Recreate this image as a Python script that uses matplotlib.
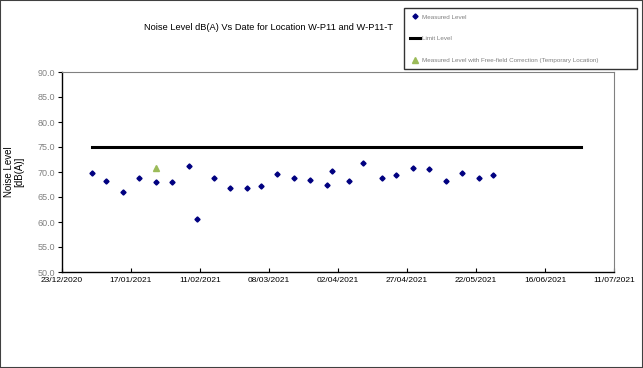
import matplotlib
matplotlib.use("Agg")
import matplotlib.pyplot as plt
import matplotlib.dates as mdates
from matplotlib.patches import Rectangle
import pandas as pd

plt.rcParams['font.family'] = ['Liberation Sans', 'DejaVu Sans']

# measured levels
meas_dates = ["2021-01-03", "2021-01-08", "2021-01-14", "2021-01-20", "2021-01-26",
              "2021-02-01", "2021-02-07", "2021-02-10", "2021-02-16", "2021-02-22",
              "2021-02-28", "2021-03-05", "2021-03-11", "2021-03-17", "2021-03-23",
              "2021-03-29", "2021-03-31", "2021-04-06", "2021-04-11", "2021-04-18",
              "2021-04-23", "2021-04-29", "2021-05-05", "2021-05-11", "2021-05-17",
              "2021-05-23", "2021-05-28"]
meas_levels = [69.9, 68.3, 66.1, 68.8, 68.0,
               68.0, 71.2, 60.6, 68.8, 66.8,
               66.8, 67.3, 69.6, 68.8, 68.5,
               67.5, 70.3, 68.2, 71.8, 68.8,
               69.4, 70.9, 70.6, 68.2, 69.9,
               68.8, 69.4]

# free-field corrected (temporary location)
ff_dates = ["2021-01-26"]
ff_levels = [70.9]

# limit level
limit_dates = ["2021-01-03", "2021-06-29"]
limit_levels = [75, 75]

tick_dates = ["2020-12-23", "2021-01-17", "2021-02-11", "2021-03-08", "2021-04-02",
              "2021-04-27", "2021-05-22", "2021-06-16", "2021-07-11"]
y_ticks = [50, 55, 60, 65, 70, 75, 80, 85, 90]

fig = plt.figure(figsize=(6.43, 3.68), dpi=100)
ax = fig.add_axes([62 / 643, 1 - 272 / 368, 552 / 643, 200 / 368])

ax.plot(pd.to_datetime(meas_dates), meas_levels, linestyle='none', marker='D',
        markersize=2.6, color='#000080', label='Measured Level')
ax.plot(pd.to_datetime(limit_dates), limit_levels, color='black', linewidth=2.2,
        label='Limit Level')
ax.plot(pd.to_datetime(ff_dates), ff_levels, linestyle='none', marker='^',
        markersize=4.5, color='#9BBB59',
        label='Measured Level with Free-field Correction (Temporary Location)')

ticks = pd.to_datetime(tick_dates)
ax.set_xlim(ticks[0], ticks[-1])
ax.set_xticks(ticks)
ax.xaxis.set_major_formatter(mdates.DateFormatter('%d/%m/%Y'))
ax.set_ylim(50, 90)
ax.set_yticks(y_ticks)
ax.set_yticklabels([f"{v:.1f}" for v in y_ticks])

ax.tick_params(axis='x', labelsize=6, length=3, direction='in', pad=3.5, colors='black')
ax.tick_params(axis='y', labelsize=6.5, length=3, direction='out', pad=2,
               labelcolor='#808080')
for s in ['top', 'right']:
    ax.spines[s].set_color('#808080')
    ax.spines[s].set_linewidth(0.8)
for s in ['left', 'bottom']:
    ax.spines[s].set_color('black')
    ax.spines[s].set_linewidth(1.0)

ax.set_ylabel('Noise Level\n[dB(A)]', fontsize=7, linespacing=1.1)
ax.yaxis.set_label_coords(-0.068, 0.5)

fig.text(269 / 643, 1 - 27 / 368, 'Noise Level dB(A) Vs Date for Location W-P11 and W-P11-T',
         fontsize=6.7, ha='center', va='center')

leg = fig.legend(loc='upper left', bbox_to_anchor=(404 / 643, 1 - 70 / 368, 233 / 643, 62 / 368),
                 mode='expand', fontsize=4.5, frameon=True, fancybox=False,
                 edgecolor='black', labelspacing=2.6, handlelength=1.5,
                 borderpad=1.0, handletextpad=0.3, borderaxespad=0)
leg.get_frame().set_linewidth(1.0)
for t in leg.get_texts():
    t.set_color('#808080')

fig.patches.append(Rectangle((0, 0), 1, 1, transform=fig.transFigure, fill=False,
                             edgecolor='#404040', linewidth=1.5))

fig.savefig('out.png', dpi=100)
